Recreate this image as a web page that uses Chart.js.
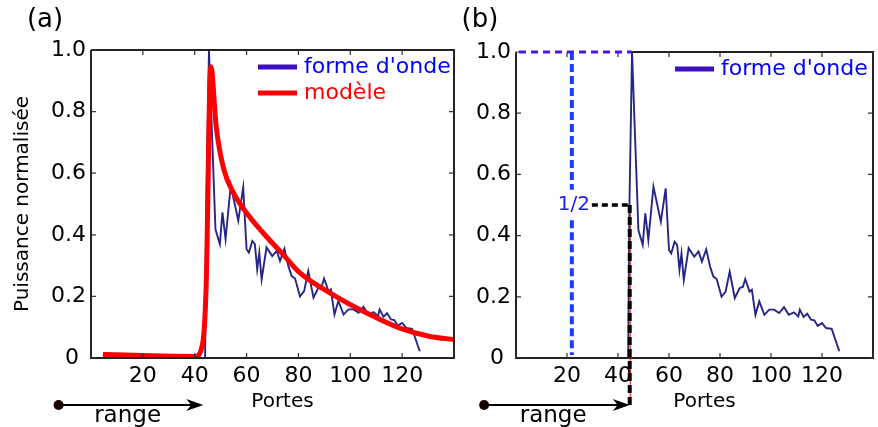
<!DOCTYPE html>
<html>
<head>
<meta charset="utf-8">
<script src="https://cdn.jsdelivr.net/npm/chart.js@4.4.0/dist/chart.umd.min.js"></script>
<style>
  body { margin: 0; background: #fff; width: 878px; height: 427px; overflow: hidden; position: relative; }
  canvas { position: absolute; top: 0; }
  #chartA { left: 0; }
  #chartB { left: 460px; }
</style>
</head>
<body>
<canvas id="chartA" width="460" height="427"></canvas>
<canvas id="chartB" width="418" height="427"></canvas>
<script>
// forme d'onde (porte, puissance normalisée)
const gates = [0, 44, 44.5, 45.5, 48, 49.7, 50.7, 51.9, 53.9, 56.8, 58.7, 60, 60.9, 62.2, 63.2, 64.1, 64.9, 65.8,
  67.7, 69.9, 71.6, 72.9, 74.6, 76.1, 77.4, 78.7, 80.6, 82.2, 83.8, 85.8, 87.7, 89, 89.9, 91.6, 92.5, 93.9,
  95.4, 97.4, 99.3, 101.2, 103.2, 105.1, 107, 109, 110.7, 111.3, 112.8, 114.2, 115.7, 117, 118.3, 120,
  121.6, 123.8, 126.8];
const power = [0, 0, 0.505, 1.0, 0.418, 0.37, 0.473, 0.386, 0.56, 0.446, 0.554, 0.353, 0.342, 0.38, 0.37, 0.288, 0.342, 0.255,
  0.359, 0.331, 0.348, 0.315, 0.355, 0.299, 0.266, 0.258, 0.2, 0.217, 0.282, 0.196, 0.228, 0.233, 0.258, 0.217, 0.223, 0.141,
  0.185, 0.141, 0.158, 0.158, 0.147, 0.166, 0.141, 0.149, 0.136, 0.158, 0.134, 0.145, 0.125, 0.123, 0.105, 0.114,
  0.098, 0.095, 0.022];

// modèle
const modelGates = [4.6, 40.2, 43.1, 44.4, 46.2, 48.3, 51.1, 55, 60.1, 66.5, 74.2, 80.6, 93.4, 106.3, 119.1, 130.7, 140];
const modelPower = [0.011, 0.005, 0.049, 0.23, 0.946, 0.75, 0.616, 0.535, 0.47, 0.405, 0.335, 0.276, 0.205, 0.146, 0.097, 0.07, 0.06];

// repères de la figure (b)
const peakGate = 45.5;
const halfGate = 44.6;
const halfLevel = 0.5;
const markGate = 21.9;
const rangeStart = -12.5;
const rangeEndA = 43.3;

const xTicks = [0, 20, 40, 60, 80, 100, 120, 140];
const yTicks = [0, 0.2, 0.4, 0.6, 0.8, 1.0];

const FONT = '"DejaVu Sans", sans-serif';
const WAVE_COLOR = '#262688';
const LEGEND_BLUE = '#4010c0';

function pts(xs, ys) { return xs.map((x, i) => ({ x: x, y: ys[i] })); }

function drawArrow(c, x0, x1, y) {
  c.save();
  c.strokeStyle = '#000'; c.fillStyle = '#000'; c.lineWidth = 2;
  c.beginPath(); c.moveTo(x0, y); c.lineTo(x1 - 8, y); c.stroke();
  c.beginPath();
  c.moveTo(x1, y); c.lineTo(x1 - 17, y - 6); c.lineTo(x1 - 12, y); c.lineTo(x1 - 17, y + 6);
  c.closePath(); c.fill();
  c.fillStyle = '#1a0000';
  c.beginPath(); c.arc(x0, y, 5, 0, Math.PI * 2); c.fill();
  c.restore();
}

function decorPlugin(panel) {
  return {
    id: 'decor' + panel,
    afterDraw(chart) {
      const c = chart.ctx, ca = chart.chartArea;
      const xs = chart.scales.x, ys = chart.scales.y;
      c.save();
      // cadre
      c.strokeStyle = '#222'; c.lineWidth = 2;
      c.beginPath();
      const topStart = panel === 'b' ? xs.getPixelForValue(peakGate) : ca.left;
      c.moveTo(topStart, ca.top); c.lineTo(ca.right, ca.top); c.lineTo(ca.right, ca.bottom);
      c.lineTo(ca.left, ca.bottom); c.lineTo(ca.left, ca.top);
      c.stroke();
      // graduations intérieures
      c.lineWidth = 1.2; c.strokeStyle = '#333';
      c.beginPath();
      xTicks.forEach(v => {
        const px = xs.getPixelForValue(v);
        c.moveTo(px, ca.bottom); c.lineTo(px, ca.bottom - 5);
        c.moveTo(px, ca.top); c.lineTo(px, ca.top + 5);
      });
      yTicks.forEach(v => {
        const py = ys.getPixelForValue(v);
        c.moveTo(ca.left, py); c.lineTo(ca.left + 5, py);
        c.moveTo(ca.right, py); c.lineTo(ca.right - 5, py);
      });
      c.stroke();

      // légende
      c.lineWidth = 5;
      c.font = '22px ' + FONT; c.textBaseline = 'middle'; c.textAlign = 'left';
      const lx = ca.right - (panel === 'a' ? 196 : 198);
      c.strokeStyle = LEGEND_BLUE;
      c.beginPath(); c.moveTo(lx, ca.top + 17); c.lineTo(lx + 39, ca.top + 17); c.stroke();
      c.fillStyle = '#0000ff'; c.fillText("forme d'onde", lx + 46, ca.top + 17);
      if (panel === 'a') {
        c.strokeStyle = '#ff0000';
        c.beginPath(); c.moveTo(lx, ca.top + 43); c.lineTo(lx + 39, ca.top + 43); c.stroke();
        c.fillStyle = '#ff0000'; c.fillText('modèle', lx + 46, ca.top + 43);
      }

      // titres
      c.fillStyle = '#000'; c.textAlign = 'center';
      c.font = '26px ' + FONT;
      c.fillText('(' + panel + ')', panel === 'a' ? 45 : 20, 20);
      c.font = '20px ' + FONT;
      c.fillText('Portes', (ca.left + ca.right) / 2 + 10, 402);

      // flèche "range"
      const arrowY = ca.bottom + 47;
      const endX = xs.getPixelForValue(panel === 'a' ? rangeEndA : halfGate);
      const startX = xs.getPixelForValue(rangeStart);
      drawArrow(c, startX, endX, arrowY);
      c.fillStyle = '#000'; c.font = '23px ' + FONT; c.textBaseline = 'alphabetic';
      c.fillText('range', startX + 69, 422);

      if (panel === 'b') {
        const xp = xs.getPixelForValue(peakGate), xh = xs.getPixelForValue(halfGate), xm = xs.getPixelForValue(markGate);
        const y1 = ys.getPixelForValue(1.0), yh = ys.getPixelForValue(halfLevel);
        // pointillés bleus
        c.setLineDash([7, 5]); c.lineWidth = 3; c.strokeStyle = '#4a14ff';
        c.beginPath(); c.moveTo(ca.left + 3, y1); c.lineTo(xp, y1); c.stroke();
        c.setLineDash([8, 4]); c.lineWidth = 4; c.strokeStyle = '#1e3cff';
        c.beginPath();
        c.moveTo(xm, y1); c.lineTo(xm, ys.getPixelForValue(0.55));
        c.moveTo(xm, ys.getPixelForValue(0.45)); c.lineTo(xm, ys.getPixelForValue(0.01));
        c.stroke();
        c.setLineDash([]);
        c.fillStyle = '#1a1aff'; c.font = '20px ' + FONT; c.textBaseline = 'middle';
        c.fillText('1/2', xm + 2, yh);
        // trait rouge fin sous les pointillés noirs
        c.lineWidth = 1; c.strokeStyle = '#ff0000';
        c.beginPath(); c.moveTo(xh + 0.5, yh + 4); c.lineTo(xh + 0.5, arrowY); c.stroke();
        // pointillés noirs
        c.setLineDash([6, 4]); c.lineWidth = 3.5; c.strokeStyle = '#000';
        c.beginPath(); c.moveTo(xm + 20, yh); c.lineTo(xh, yh); c.stroke();
        c.setLineDash([8, 4]); c.lineWidth = 4;
        c.beginPath(); c.moveTo(xh, yh); c.lineTo(xh, arrowY); c.stroke();
        c.setLineDash([]);
      }
      c.restore();
    }
  };
}

function makeOptions(yw, top, right, withTitle) {
  return {
    responsive: false,
    animation: false,
    layout: { padding: { top: top, right: right, left: 0, bottom: 0 } },
    plugins: { legend: { display: false }, tooltip: { enabled: false } },
    scales: {
      x: {
        type: 'linear', min: 0, max: 140,
        afterBuildTicks: s => { s.ticks = xTicks.map(v => ({ value: v })); },
        ticks: {
          font: { family: FONT, size: 22 }, color: '#000', padding: 5, maxRotation: 0, autoSkip: false,
          callback: v => (v === 0 || v === 140) ? '' : String(v)
        },
        grid: { display: false, drawTicks: false },
        border: { display: false },
        afterFit: s => { s.height = 69; }
      },
      y: {
        min: 0, max: 1,
        afterBuildTicks: s => { s.ticks = yTicks.map(v => ({ value: v })); },
        ticks: {
          font: { family: FONT, size: 22 }, color: '#000', padding: 5,
          callback: v => v === 0 ? '0 ' : v.toFixed(1)
        },
        grid: { display: false, drawTicks: false },
        border: { display: false },
        title: {
          display: withTitle, text: 'Puissance normalisée', color: '#000',
          font: { family: FONT, size: 20 }, padding: { top: 11, bottom: 0 }
        },
        afterFit: s => { s.width = yw; }
      }
    }
  };
}

new Chart(document.getElementById('chartA'), {
  type: 'scatter',
  data: {
    datasets: [
      { label: 'modèle', data: pts(modelGates, modelPower), showLine: true, borderColor: '#ff0000',
        borderWidth: 5, pointRadius: 0, cubicInterpolationMode: 'monotone', order: 0 },
      { label: "forme d'onde", data: pts(gates, power), showLine: true, borderColor: WAVE_COLOR,
        borderWidth: 1.9, pointRadius: 0, order: 1 }
    ]
  },
  options: makeOptions(91, 50, 6, true),
  plugins: [decorPlugin('a')]
});

new Chart(document.getElementById('chartB'), {
  type: 'scatter',
  data: {
    datasets: [
      { label: "forme d'onde", data: pts(gates, power), showLine: true, borderColor: WAVE_COLOR,
        borderWidth: 1.9, pointRadius: 0 }
    ]
  },
  options: makeOptions(56, 52, 1, false),
  plugins: [decorPlugin('b')]
});
</script>
</body>
</html>
